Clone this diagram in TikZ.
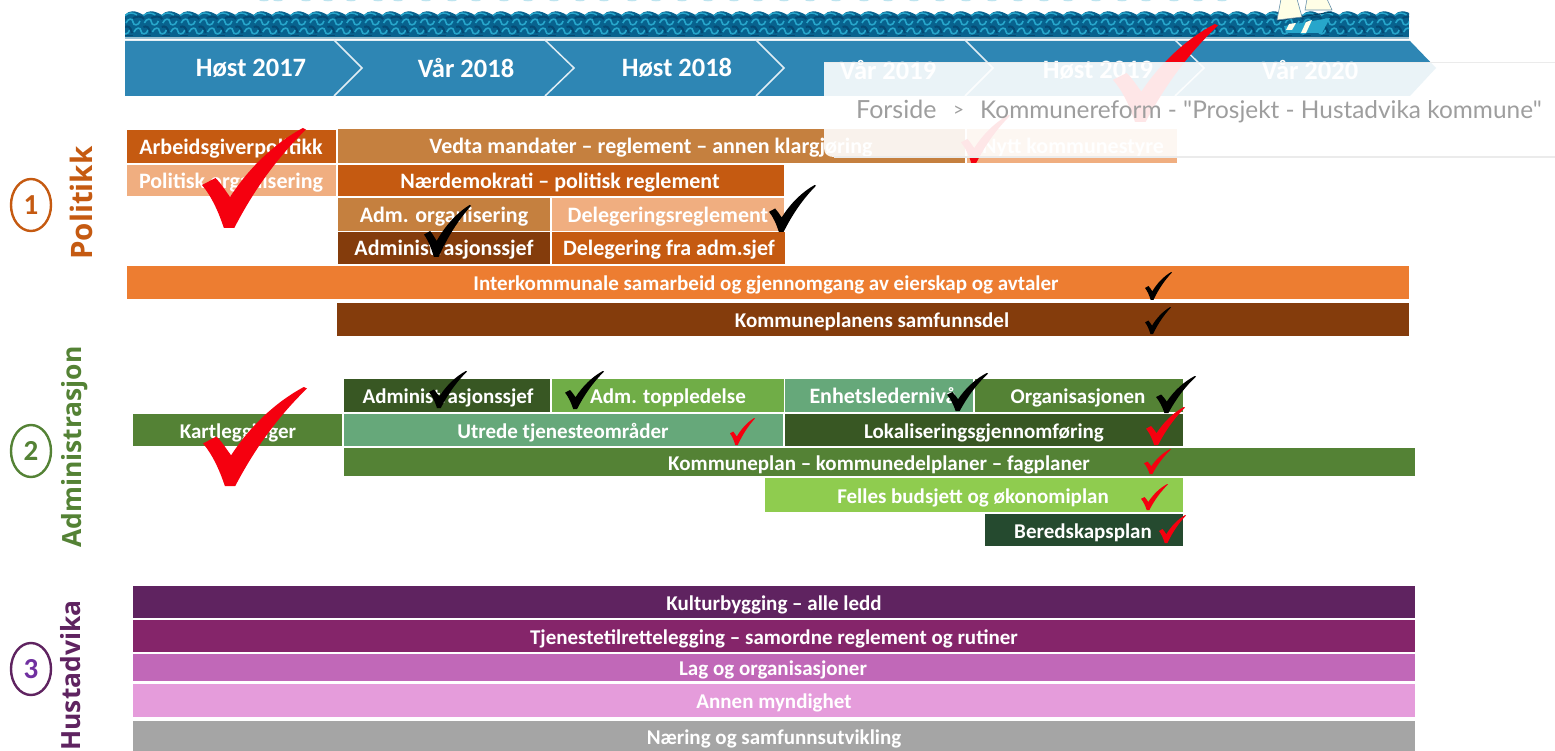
\documentclass[tikz,border=0pt]{standalone}
\usepackage{fontspec}
\setmainfont{Carlito}
\newfontfamily\crumbfont{Lato}
\newfontfamily\sidefont{Open Sans}
\definecolor{cHead}{HTML}{2E86B4}
\definecolor{cWater}{HTML}{08628E}
\definecolor{cWaterL}{HTML}{27A6CB}
\definecolor{cWaterD}{HTML}{054A74}
\definecolor{oDark}{HTML}{C55A11}
\definecolor{oMid}{HTML}{C5803F}
\definecolor{oLight}{HTML}{F0AE80}
\definecolor{oBright}{HTML}{ED7D31}
\definecolor{oBrown}{HTML}{843C0C}
\definecolor{gDark}{HTML}{385723}
\definecolor{gMid}{HTML}{548235}
\definecolor{gLeaf}{HTML}{70AD47}
\definecolor{gTeal}{HTML}{66A87A}
\definecolor{gLime}{HTML}{8FCC4F}
\definecolor{gForest}{HTML}{254A2F}
\definecolor{pDark}{HTML}{5F2360}
\definecolor{pWine}{HTML}{85256A}
\definecolor{pMid}{HTML}{C168B8}
\definecolor{pLight}{HTML}{E59CDB}
\definecolor{pGrey}{HTML}{A5A5A5}
\definecolor{pNum}{HTML}{7030A0}
\definecolor{ckRed}{HTML}{F5000F}
\def\barfs{21}
\tikzset{
  bartext/.style={text=white,font=\fontsize{\barfs}{\barfs}\bfseries\selectfont,inner sep=0pt,text height=14pt,text depth=0pt,anchor=center,yshift=-1pt},
  headtext/.style={text=white,font=\fontsize{26.5}{26.5}\bfseries\selectfont,inner sep=0pt,anchor=center},
  sidelabel/.style={font=\sidefont\fontsize{26.4}{26.4}\bfseries\selectfont,rotate=90,inner sep=0pt,anchor=center},
  numring/.style={draw,line width=2.4pt,ellipse,minimum width=40pt,minimum height=52pt,inner sep=0pt,font=\fontsize{29}{29}\bfseries\selectfont},
  chevline/.style={draw=white!85!cHead,line width=1.5pt},
  crumb/.style={text=black!38,anchor=base west,inner sep=0pt},
}
\usetikzlibrary{shapes.geometric}
\newcommand{\tbar}[8]{%
  \fill[#6] (#2,#3) rectangle (#4,#5);
  \node[bartext] (#1) at ({#7},{(#3+#5)/2}) {#8};}
\newcommand{\chk}[5]{%
  \pgfmathsetmacro{\chkw}{#3-#1}\pgfmathsetmacro{\chkh}{#4-#2}
  \begin{scope}[shift={(#1,#2)},x={(\chkw pt,0pt)},y={(0pt,-\chkh pt)}]
  \fill[#5] (0,0.57) -- (0.13,0.50) .. controls (0.18,0.55) and (0.22,0.62) .. (0.27,0.69)
    .. controls (0.45,0.40) and (0.70,0.15) .. (0.97,0) -- (1,0.015)
    .. controls (0.72,0.30) and (0.50,0.62) .. (0.31,1) -- (0.21,1)
    .. controls (0.16,0.84) and (0.09,0.68) .. (0,0.57) -- cycle;
  \end{scope}}
\begin{document}
\begin{tikzpicture}[x=1pt,y=-1pt]
\useasboundingbox (0,0) rectangle (1555,751);
\fill[white] (0,0) rectangle (1555,751);
% clipped title remains
\foreach \tx in {258,272,300,322,345,372,392,420,446,470,498,522,548,574,598,626,650,676,702,728,752,778,804,830,858,882,908,934,960,986,1012,1038,1062,1090,1116,1140,1168,1192,1216}
  \fill[cWaterL!30!white] (\tx+6,0) ellipse (5 and 1.3);
% water band
\begin{scope}
\clip (125,9) rectangle (1409,38);
\fill[cWater] (125,15) rectangle (1409,37);
\foreach \i in {-1,0,...,70}{
  \pgfmathsetmacro{\wx}{125+18.4*\i}
  \fill[cWater] (\wx,15) .. controls ({\wx+4},10) and ({\wx+10},10) .. ({\wx+18.4},15) -- cycle;
  \draw[cWaterL,line width=1.5pt] (\wx,15.5) .. controls ({\wx+4},12) and ({\wx+8},12.5) .. ({\wx+12},15);
  \draw[cWaterD,line width=2pt] ({\wx+8},18) .. controls ({\wx+12},16) and ({\wx+17},16) .. ({\wx+19},19);
  \draw[cWaterL,line width=1.6pt] ({\wx+1},23) .. controls ({\wx+3},18) and ({\wx+8},18) .. ({\wx+8},22) .. controls ({\wx+8},26) and ({\wx+14},26) .. ({\wx+15},21);
  \draw[cWaterD,line width=2pt] ({\wx},27) .. controls ({\wx+3},25.5) and ({\wx+6},27) .. ({\wx+7},33);
  \draw[cWaterL,line width=1.6pt] ({\wx+9},32) .. controls ({\wx+11},27) and ({\wx+16},27) .. ({\wx+16},31) .. controls ({\wx+16},35) and ({\wx+22},35) .. ({\wx+23},30);
  \draw[cWaterD,line width=1.6pt] ({\wx},35.5) -- ({\wx+8},35.5);
}
\end{scope}
\fill[cWater!40!white] (125,37) rectangle (1409,39);
% sailboat
\fill[cWaterL] (1284,26) -- (1330,18) -- (1322,33) -- (1286,33) -- cycle;
\fill[white!92!yellow] (1289,24) -- (1296,23) -- (1292,30) -- (1286,30) -- cycle;
\fill[white!92!yellow] (1306,22) -- (1312,20) -- (1306,33) -- (1301,33) -- cycle;
\draw[cWaterD!85!black,line width=1pt] (1277,21) -- (1300,17) -- (1332,12);
\fill[white!90!yellow,draw=cWaterD!60,line width=.6pt] (1281,-1) -- (1277,20) -- (1302,17) -- (1297,-1) -- cycle;
\fill[white!90!yellow,draw=cWaterD!60,line width=.6pt] (1307,-1) -- (1305,10) -- (1332,10) -- (1327,-1) -- cycle;
% header chevrons
\fill[cHead] (125,41) -- (1410,41) -- (1436,68) -- (1410,96) -- (125,96) -- cycle;
\draw[chevline] (334,40) -- (362,68) -- (334,96);
\draw[chevline] (545,40) -- (574,68) -- (545,96);
\draw[chevline] (756,40) -- (784,68) -- (756,96);
\draw[chevline] (965,40) -- (993,68) -- (965,96);
\draw[chevline] (1175,40) -- (1204,68) -- (1175,96);
\node[headtext] (h1) at (251,68) {Høst 2017};
\node[headtext] (h2) at (466,68) {Vår 2018};
\node[headtext] (h3) at (677,68) {Høst 2018};
\node[headtext] (h4) at (888,70) {Vår 2019};
\node[headtext] (h5) at (1098,70) {Høst 2019};
\node[headtext] (h6) at (1310,70) {Vår 2020};
% politikk
\def\barfs{22}
\tbar{a1}{127}{130}{336}{163}{oDark}{231}{Arbeidsgiverpolitikk}
\tbar{a2}{127}{165}{336}{196}{oLight}{231}{Politisk organisering}
\tbar{a3}{338}{129}{965}{163}{oMid}{651}{Vedta mandater – reglement – annen klargjøring}
\tbar{a4}{967}{129}{1177}{163}{oLight}{1073}{Nytt kommunestyre}
\tbar{a5}{338}{165}{784}{196}{oDark}{560}{Nærdemokrati – politisk reglement}
\tbar{a6}{338}{198}{550}{231}{oMid}{444}{Adm. organisering}
\tbar{a7}{552}{198}{784}{231}{oLight}{668}{Delegeringsreglement}
\tbar{a8}{338}{232}{550}{264}{oBrown}{444}{Administrasjonssjef}
\tbar{a9}{552}{232}{785}{264}{oDark}{669}{Delegering fra adm.sjef}
\def\barfs{21}
\tbar{a10}{127}{266}{1409}{299}{oBright}{766}{Interkommunale samarbeid og gjennomgang av eierskap og avtaler}
\tbar{a11}{337}{303}{1409}{336}{oBrown}{872}{Kommuneplanens samfunnsdel}
% administrasjon
\tbar{b1}{344}{379}{550}{412}{gDark}{448}{Administrasjonssjef}
\tbar{b2}{552}{379}{784}{412}{gLeaf}{668}{Adm. toppledelse}
\def\barfs{22}
\tbar{b3}{785}{379}{973}{412}{gTeal}{883}{Enhetsledernivå}
\def\barfs{21}
\tbar{b4}{975}{379}{1183}{412}{gMid}{1078}{Organisasjonen}
\tbar{b5}{133}{414}{342}{446}{gMid}{238}{Kartlegginger}
\tbar{b6}{344}{414}{783}{446}{gTeal}{563}{Utrede tjenesteområder}
\tbar{b7}{785}{414}{1183}{446}{gDark}{984}{Lokaliseringsgjennomføring}
\tbar{b8}{344}{448}{1415}{476}{gMid}{879}{Kommuneplan – kommunedelplaner – fagplaner}
\tbar{b9}{765}{478}{1183}{512}{gLime}{973}{Felles budsjett og økonomiplan}
\tbar{b10}{985}{514}{1183}{546}{gForest}{1083}{Beredskapsplan}
% hustadvika
\tbar{c1}{133}{586}{1415}{618}{pDark}{774}{Kulturbygging – alle ledd}
\tbar{c2}{133}{620}{1415}{652}{pWine}{774}{Tjenestetilrettelegging – samordne reglement og rutiner}
\tbar{c3}{133}{654}{1415}{681}{pMid}{773}{Lag og organisasjoner}
\tbar{c4}{133}{684}{1415}{717}{pLight}{774}{Annen myndighet}
\tbar{c5}{133}{721}{1415}{751}{pGrey}{774}{Næring og samfunnsutvikling}
% side labels
\node[numring,draw=oDark,text=oDark] (n1) at (31,205) {1};
\node[numring,draw=gMid,text=gMid] (n2) at (31,451) {2};
\node[numring,draw=pDark,text=pNum] (n3) at (31,669) {3};
\node[sidelabel,text=oDark,font=\sidefont\fontsize{29.5}{29.5}\bfseries\selectfont] (s1) at (81,203) {Politikk};
\node[sidelabel,text=gMid] (s2) at (75,447) {Administrasjon};
\node[sidelabel,text=pDark] (s3) at (71,675.5) {Hustadvika};
% checks
\chk{202}{128}{306}{228}{ckRed}
\chk{203}{387}{307}{486}{ckRed}
\chk{1113}{24}{1218}{122}{ckRed}
\chk{961}{115}{1010}{163}{ckRed}
\chk{424}{205}{471}{257}{black}
\chk{769}{185}{816}{232}{black}
\chk{1145}{272}{1172}{300}{black}
\chk{1145}{307}{1171}{334}{black}
\chk{429}{371}{467}{408}{black}
\chk{565}{371}{604}{409}{black}
\chk{947}{373}{988}{411}{black}
\chk{1156}{376}{1196}{413}{black}
\chk{730}{418}{755}{445}{ckRed}
\chk{1146}{407}{1185}{445}{ckRed}
\chk{1144}{449}{1171}{474}{ckRed}
\chk{1141}{484}{1168}{510}{ckRed}
\chk{1159}{515}{1186}{543}{ckRed}
% breadcrumb overlay
\fill[white,fill opacity=.9] (1556,62.5) -- (824,62.5) -- (824,148) .. controls (824,154) and (828,157) .. (834,157) -- (1556,157) -- cycle;
\draw[black!8,line width=1.4pt] (1556,62.5) -- (824,62.5);
\draw[black!8,line width=1.4pt] (834,157) -- (1556,157);
\node[crumb,font=\crumbfont\fontsize{25}{25}\selectfont] (crumb1) at (856,119) {Forside};
\node[crumb,font=\crumbfont\fontsize{19}{19}\selectfont] (crumb2) at (953,117) {>};
\node[crumb,font=\crumbfont\fontsize{24.4}{24.4}\selectfont] (crumb3) at (980,119) {Kommunereform - "Prosjekt - Hustadvika kommune"};
\end{tikzpicture}
\end{document}
